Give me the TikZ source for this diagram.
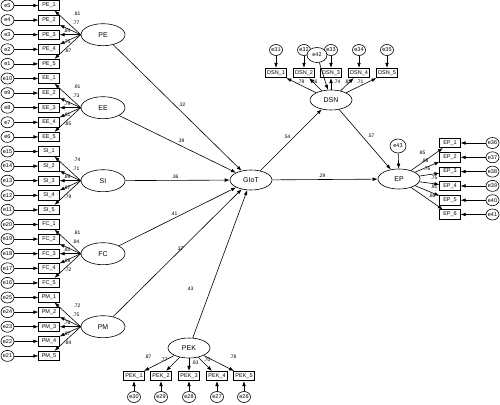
\documentclass[tikz,border=0pt]{standalone}
\usepackage{fontspec}
\setmainfont{Liberation Sans}
\usetikzlibrary{arrows,arrows.meta,shapes.geometric}
\tikzset{
  lat/.style={ellipse,draw,line width=0.6pt,minimum width=42pt,minimum height=20pt,inner sep=0pt,font=\fontsize{7}{8}\selectfont},
  biglat/.style={lat,minimum width=44pt,minimum height=22pt},
  ind/.style={rectangle,draw,line width=0.6pt,minimum width=20.5pt,minimum height=9.5pt,inner sep=0.5pt,font=\fontsize{5.5}{6}\selectfont},
  err/.style={ellipse,draw,fill=white,line width=0.6pt,minimum width=13pt,minimum height=11pt,inner sep=0pt,font=\fontsize{5.5}{6}\selectfont},
  coef/.style={inner sep=0pt,font=\fontsize{5}{6}\selectfont},
  link/.style={-{Latex[length=5pt,width=3.6pt]},line width=0.6pt}
}
\begin{document}
\begin{tikzpicture}[x=1pt,y=-1pt]
\useasboundingbox (0,0) rectangle (500,404);
\fill[white] (0,0) rectangle (500,404);
% latent variables
\node[biglat](PE)at(103,34.7){PE};
\node[biglat](EE)at(103,107.7){EE};
\node[biglat](SI)at(103,180.7){SI};
\node[biglat](FC)at(103,253.7){FC};
\node[biglat](PM)at(103,326.7){PM};
\node[lat](GIoT)at(251,180){GIoT};
\node[lat](DSN)at(331,100){DSN};
\node[lat](EP)at(399,179){EP};
\node[lat](PEK)at(189,348){PEK};
% PE
\node[ind](pe1)at(49,5.5){PE\_1};
\node[ind](pe2)at(49,20.1){PE\_2};
\node[ind](pe3)at(49,34.7){PE\_3};
\node[ind](pe4)at(49,49.3){PE\_4};
\node[ind](pe5)at(49,63.9){PE\_5};
\node[err](e5)at(7.5,5.5){e5};
\node[err](e4)at(7.5,20.1){e4};
\node[err](e3)at(7.5,34.7){e3};
\node[err](e2)at(7.5,49.3){e2};
\node[err](e1)at(7.5,63.9){e1};
\draw[link](e5)--(pe1); \draw[link](e4)--(pe2); \draw[link](e3)--(pe3); \draw[link](e2)--(pe4); \draw[link](e1)--(pe5);
\draw[link](PE.west)--(pe1); \draw[link](PE.west)--(pe2); \draw[link](PE.west)--(pe3); \draw[link](PE.west)--(pe4); \draw[link](PE.west)--(pe5);
\node[coef](lpe1)at(77,14.2){.81};
\node[coef](lpe2)at(76,23.2){.77};
\node[coef](lpe3)at(67,31.2){.84};
\node[coef](lpe4)at(67,41.7){.75};
\node[coef](lpe5)at(68,51.2){.87};
% EE
\node[ind](ee1)at(49,78.5){EE\_1};
\node[ind](ee2)at(49,93.1){EE\_2};
\node[ind](ee3)at(49,107.7){EE\_3};
\node[ind](ee4)at(49,122.3){EE\_4};
\node[ind](ee5)at(49,136.9){EE\_5};
\node[err](e10)at(7.5,78.5){e10};
\node[err](e9)at(7.5,93.1){e9};
\node[err](e8)at(7.5,107.7){e8};
\node[err](e7)at(7.5,122.3){e7};
\node[err](e6)at(7.5,136.9){e6};
\draw[link](e10)--(ee1); \draw[link](e9)--(ee2); \draw[link](e8)--(ee3); \draw[link](e7)--(ee4); \draw[link](e6)--(ee5);
\draw[link](EE.west)--(ee1); \draw[link](EE.west)--(ee2); \draw[link](EE.west)--(ee3); \draw[link](EE.west)--(ee4); \draw[link](EE.west)--(ee5);
\node[coef](lee1)at(77,87.2){.91};
\node[coef](lee2)at(76,96.2){.73};
\node[coef](lee3)at(67,104.2){.79};
\node[coef](lee4)at(67,114.7){.81};
\node[coef](lee5)at(68,124.2){.85};
% SI
\node[ind](si1)at(49,151.5){SI\_1};
\node[ind](si2)at(49,166.1){SI\_2};
\node[ind](si3)at(49,180.7){SI\_3};
\node[ind](si4)at(49,195.3){SI\_4};
\node[ind](si5)at(49,209.9){SI\_5};
\node[err](e15)at(7.5,151.5){e15};
\node[err](e14)at(7.5,166.1){e14};
\node[err](e13)at(7.5,180.7){e13};
\node[err](e12)at(7.5,195.3){e12};
\node[err](e11)at(7.5,209.9){e11};
\draw[link](e15)--(si1); \draw[link](e14)--(si2); \draw[link](e13)--(si3); \draw[link](e12)--(si4); \draw[link](e11)--(si5);
\draw[link](SI.west)--(si1); \draw[link](SI.west)--(si2); \draw[link](SI.west)--(si3); \draw[link](SI.west)--(si4); \draw[link](SI.west)--(si5);
\node[coef](lsi1)at(77,160.2){.74};
\node[coef](lsi2)at(76,169.2){.71};
\node[coef](lsi3)at(67,177.2){.89};
\node[coef](lsi4)at(67,187.7){.87};
\node[coef](lsi5)at(68,197.2){.79};
% FC
\node[ind](fc1)at(49,224.5){FC\_1};
\node[ind](fc2)at(49,239.1){FC\_2};
\node[ind](fc3)at(49,253.7){FC\_3};
\node[ind](fc4)at(49,268.3){FC\_4};
\node[ind](fc5)at(49,282.9){FC\_5};
\node[err](e20)at(7.5,224.5){e20};
\node[err](e19)at(7.5,239.1){e19};
\node[err](e18)at(7.5,253.7){e18};
\node[err](e17)at(7.5,268.3){e17};
\node[err](e16)at(7.5,282.9){e16};
\draw[link](e20)--(fc1); \draw[link](e19)--(fc2); \draw[link](e18)--(fc3); \draw[link](e17)--(fc4); \draw[link](e16)--(fc5);
\draw[link](FC.west)--(fc1); \draw[link](FC.west)--(fc2); \draw[link](FC.west)--(fc3); \draw[link](FC.west)--(fc4); \draw[link](FC.west)--(fc5);
\node[coef](lfc1)at(77,233.2){.81};
\node[coef](lfc2)at(76,242.2){.84};
\node[coef](lfc3)at(67,250.2){.82};
\node[coef](lfc4)at(67,260.7){.89};
\node[coef](lfc5)at(68,270.2){.72};
% PM
\node[ind](pm1)at(49,297.5){PM\_1};
\node[ind](pm2)at(49,312.1){PM\_2};
\node[ind](pm3)at(49,326.7){PM\_3};
\node[ind](pm4)at(49,341.3){PM\_4};
\node[ind](pm5)at(49,355.9){PM\_5};
\node[err](e25)at(7.5,297.5){e25};
\node[err](e24)at(7.5,312.1){e24};
\node[err](e23)at(7.5,326.7){e23};
\node[err](e22)at(7.5,341.3){e22};
\node[err](e21)at(7.5,355.9){e21};
\draw[link](e25)--(pm1); \draw[link](e24)--(pm2); \draw[link](e23)--(pm3); \draw[link](e22)--(pm4); \draw[link](e21)--(pm5);
\draw[link](PM.west)--(pm1); \draw[link](PM.west)--(pm2); \draw[link](PM.west)--(pm3); \draw[link](PM.west)--(pm4); \draw[link](PM.west)--(pm5);
\node[coef](lpm1)at(77,306.2){.72};
\node[coef](lpm2)at(76,315.2){.75};
\node[coef](lpm3)at(67,323.2){.76};
\node[coef](lpm4)at(67,333.7){.87};
\node[coef](lpm5)at(68,343.2){.84};
% PEK
\node[ind](pek1)at(134,376){PEK\_1};
\node[ind](pek2)at(161,376){PEK\_2};
\node[ind](pek3)at(189,376){PEK\_3};
\node[ind](pek4)at(217,376){PEK\_4};
\node[ind](pek5)at(244,376){PEK\_5};
\node[err](e30)at(134,397){e30};
\node[err](e29)at(161,397){e29};
\node[err](e28)at(189,397){e28};
\node[err](e27)at(217,397){e27};
\node[err](e26)at(244,397){e26};
\draw[link](e30)--(pek1); \draw[link](e29)--(pek2); \draw[link](e28)--(pek3); \draw[link](e27)--(pek4); \draw[link](e26)--(pek5);
\draw[link](PEK)--(pek1); \draw[link](PEK)--(pek2); \draw[link](PEK)--(pek3); \draw[link](PEK)--(pek4); \draw[link](PEK)--(pek5);
\node[coef](lpek1)at(148,357){.87};
\node[coef](lpek2)at(164,360){.77};
\node[coef](lpek3)at(195,363){.93};
\node[coef](lpek4)at(207,360){.70};
\node[coef](lpek5)at(233,357){.78};
% DSN
\node[ind](dsn1)at(276,73){DSN\_1};
\node[ind](dsn2)at(304,73){DSN\_2};
\node[ind](dsn3)at(331,73){DSN\_3};
\node[ind](dsn4)at(359,73){DSN\_4};
\node[ind](dsn5)at(387,73){DSN\_5};
\node[err](e31)at(276,50){e31};
\node[err](e32)at(304,50){e32};
\node[err](e33)at(331,50){e33};
\node[err](e34)at(359,50){e34};
\node[err](e35)at(387,50){e35};
\draw[link](e31)--(dsn1); \draw[link](e32)--(dsn2); \draw[link](e33)--(dsn3); \draw[link](e34)--(dsn4); \draw[link](e35)--(dsn5);
\draw[link](DSN)--(dsn1); \draw[link](DSN)--(dsn2); \draw[link](DSN)--(dsn3); \draw[link](DSN)--(dsn4); \draw[link](DSN)--(dsn5);
\node[err,minimum width=20pt,minimum height=15pt](e42)at(317,55){e42};
\draw[link](e42)--(DSN);
\node[coef](ldsn1)at(301,82){.79};
\node[coef](ldsn2)at(314,82){.86};
\node[coef](ldsn3)at(337,82){.74};
\node[coef](ldsn4)at(348,82){.83};
\node[coef](ldsn5)at(360,82){.71};
% EP
\node[ind](ep1)at(450,143){EP\_1};
\node[ind](ep2)at(450,157.3){EP\_2};
\node[ind](ep3)at(450,171.6){EP\_3};
\node[ind](ep4)at(450,185.9){EP\_4};
\node[ind](ep5)at(450,200.2){EP\_5};
\node[ind](ep6)at(450,214.5){EP\_6};
\node[err](e36)at(492.5,143){e36};
\node[err](e37)at(492.5,157.3){e37};
\node[err](e38)at(492.5,171.6){e38};
\node[err](e39)at(492.5,185.9){e39};
\node[err](e40)at(492.5,200.2){e40};
\node[err](e41)at(492.5,214.5){e41};
\draw[link](e36)--(ep1); \draw[link](e37)--(ep2); \draw[link](e38)--(ep3); \draw[link](e39)--(ep4); \draw[link](e40)--(ep5); \draw[link](e41)--(ep6);
\draw[link](EP)--(ep1); \draw[link](EP)--(ep2); \draw[link](EP)--(ep3); \draw[link](EP)--(ep4); \draw[link](EP)--(ep5); \draw[link](EP)--(ep6);
\node[err,minimum width=16pt,minimum height=14pt](e43)at(398,146){e43};
\draw[link](e43)--(EP);
\node[coef](lep1)at(422,153){.85};
\node[coef](lep2)at(425,161){.89};
\node[coef](lep3)at(427,169){.76};
\node[coef](lep4)at(434,178){.75};
\node[coef](lep5)at(434,187){.91};
\node[coef](lep6)at(432,196){.86};
% structural paths
\draw[link](PE)--(GIoT);
\draw[link](EE)--(GIoT);
\draw[link](SI)--(GIoT);
\draw[link](FC)--(GIoT);
\draw[link](PM)--(GIoT);
\draw[link](PEK)--(GIoT);
\draw[link](GIoT)--(DSN);
\draw[link](DSN)--(EP);
\draw[link](GIoT)--(EP);
\node[coef](lpe)at(182,105){.32};
\node[coef](lee)at(181,141){.39};
\node[coef](lsi)at(175,177){.36};
\node[coef](lfc)at(174,214){.41};
\node[coef](lpm)at(180,249){.37};
\node[coef](lpek)at(190,289){.43};
\node[coef](lgd)at(287,137){.54};
\node[coef](lde)at(371,136){.57};
\node[coef](lge)at(322,176){.29};
\end{tikzpicture}
\end{document}
